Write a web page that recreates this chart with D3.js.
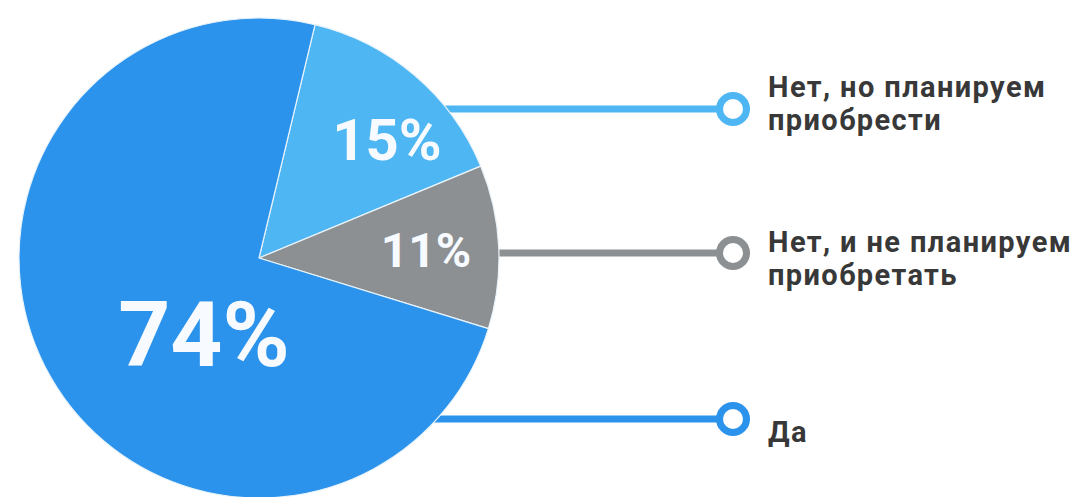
<!DOCTYPE html>
<html>
<head>
<meta charset="utf-8">
<script src="https://cdn.jsdelivr.net/npm/d3@7"></script>
<style>
  html, body { margin: 0; padding: 0; background: #ffffff; }
  svg { display: block; }
</style>
</head>
<body>
<div id="chart"></div>
<script>
// Chart data
var categories = ["Нет, но планируем приобрести", "Нет, и не планируем приобретать", "Да"];
var values = [15, 11, 74];
var valueLabels = ["15%", "11%", "74%"];
var legendLines = [["Нет, но планируем", "приобрести"], ["Нет, и не планируем", "приобретать"], ["Да"]];
var colors = ["#4db6f3", "#8c9093", "#2c93ec"];

// SVG area
var svgWidth = 1077;
var svgHeight = 497;

var cx = 259, cy = 258, radius = 240;

var svg = d3.select("#chart")
  .append("svg")
  .attr("width", svgWidth)
  .attr("height", svgHeight);

// layout for the labels (offset from pie centre) and connectors
var labelLayout = [
  { dx: 128, dy: -118, size: 58 },
  { dx: 167, dy: -8, size: 48 },
  { dx: -55, dy: 77, size: 91 }
];
var connectorY = [109, 253, 419];
var markerX = 733;
var legendX = 768;
var legendBaseline = [97, 252, 442];
var legendLineHeight = 33;

var pie = d3.pie()
  .sort(null)
  .value(d => d)
  .startAngle(13.5 * Math.PI / 180)
  .endAngle(13.5 * Math.PI / 180 + 2 * Math.PI);

var arc = d3.arc()
  .innerRadius(0)
  .outerRadius(radius);

var arcs = pie(values);

// connector lines go behind the pie
var connectors = svg.append("g");
connectors.selectAll("line")
  .data(arcs)
  .enter()
  .append("line")
  .attr("x1", cx)
  .attr("x2", markerX)
  .attr("y1", (d, i) => connectorY[i])
  .attr("y2", (d, i) => connectorY[i])
  .attr("stroke", (d, i) => colors[i])
  .attr("stroke-width", 7);

connectors.selectAll("circle")
  .data(arcs)
  .enter()
  .append("circle")
  .attr("cx", markerX)
  .attr("cy", (d, i) => connectorY[i])
  .attr("r", 13.5)
  .attr("fill", "#ffffff")
  .attr("stroke", (d, i) => colors[i])
  .attr("stroke-width", 7);

var pieGroup = svg.append("g")
  .attr("transform", `translate(${cx}, ${cy})`);

pieGroup.selectAll("path")
  .data(arcs)
  .enter()
  .append("path")
  .attr("d", arc)
  .attr("fill", (d, i) => colors[i])
  .attr("stroke", "#e8f3fb")
  .attr("stroke-width", 1.2)
  .attr("stroke-linejoin", "round");

pieGroup.selectAll("text")
  .data(arcs)
  .enter()
  .append("text")
  .attr("x", (d, i) => labelLayout[i].dx)
  .attr("y", (d, i) => labelLayout[i].dy)
  .attr("text-anchor", "middle")
  .attr("dominant-baseline", "central")
  .style("font-family", "Roboto, 'Noto Sans', sans-serif")
  .style("font-weight", 700)
  .style("font-size", (d, i) => labelLayout[i].size + "px")
  .style("fill", "#f7fbff")
  .text((d, i) => valueLabels[i]);

// legend text
var legend = svg.append("g");
legend.selectAll("text")
  .data(categories)
  .enter()
  .append("text")
  .attr("x", legendX)
  .attr("y", (d, i) => legendBaseline[i])
  .style("font-family", "Roboto, 'Noto Sans', sans-serif")
  .style("font-weight", 700)
  .style("font-size", "29px")
  .style("letter-spacing", "1.4px")
  .style("fill", "#383838")
  .each(function(d, i) {
    d3.select(this).selectAll("tspan")
      .data(legendLines[i])
      .enter()
      .append("tspan")
      .attr("x", legendX)
      .attr("dy", (t, j) => j === 0 ? 0 : legendLineHeight)
      .text(t => t);
  });
</script>
</body>
</html>
